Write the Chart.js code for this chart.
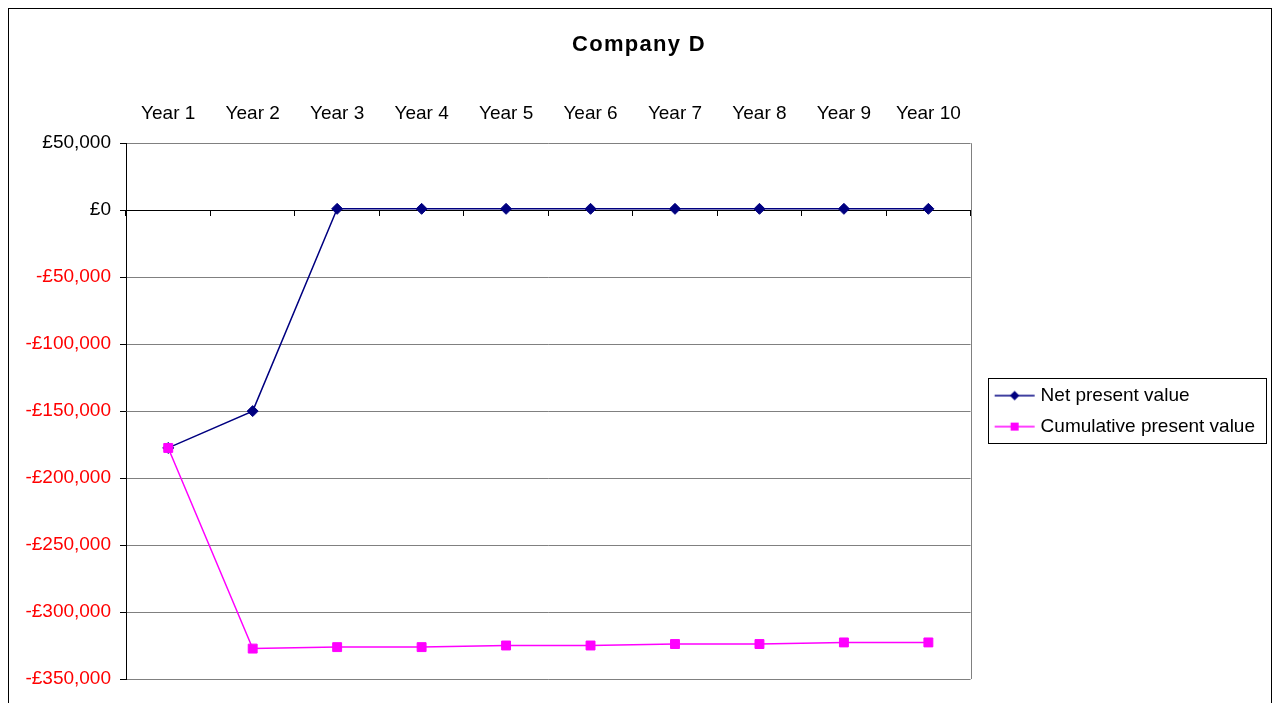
<!DOCTYPE html>
<html>
<head>
<meta charset="utf-8">
<script src="https://cdn.jsdelivr.net/npm/chart.js@4/dist/chart.umd.min.js"></script>
<style>
  html, body { margin: 0; padding: 0; background: #fff; }
  #wrap { width: 1277px; height: 703px; position: relative; }
</style>
</head>
<body>
<div id="wrap"><canvas id="c" width="1277" height="703"></canvas></div>
<script>
const chartTitle = 'Company D';
const years = ['Year 1', 'Year 2', 'Year 3', 'Year 4', 'Year 5', 'Year 6', 'Year 7', 'Year 8', 'Year 9', 'Year 10'];
const netPresentValue = [-177500, -150000, 1000, 1000, 1000, 1000, 1000, 1000, 1000, 1000];
const cumulativePresentValue = [-177500, -327300, -326200, -326200, -325000, -325000, -323900, -323900, -322700, -322700];
const seriesNames = ['Net present value', 'Cumulative present value'];
const yMin = -350000, yMax = 50000, yStep = 50000;

const FONT = 'Liberation Sans, Arial, sans-serif';
const NAVY = '#000080';
const MAGENTA = '#FF00FF';

function legendSwatch(color, style) {
  const W = 64, H = 14;
  const cv = document.createElement('canvas');
  cv.width = W; cv.height = H;
  const g = cv.getContext('2d');
  const a = W / 2 - 12.25;
  const cy = H / 2;
  g.strokeStyle = color; g.lineWidth = 1.3;
  g.beginPath(); g.moveTo(a, cy); g.lineTo(a + 40, cy); g.stroke();
  const cx = a + 20;
  g.fillStyle = color;
  if (style === 'rectRot') {
    const r = 4.8;
    g.beginPath(); g.moveTo(cx, cy - r); g.lineTo(cx + r, cy); g.lineTo(cx, cy + r); g.lineTo(cx - r, cy); g.closePath(); g.fill();
  } else {
    const s = 8;
    g.fillRect(cx - s / 2, cy - s / 2, s, s);
  }
  return cv;
}

const framePlugin = {
  id: 'frame',
  afterInit(chart) {
    const tb = chart.titleBlock;
    if (tb && !tb._spaced) {
      const orig = tb.draw.bind(tb);
      tb.draw = function (area) {
        const ctx = chart.ctx;
        ctx.save();
        try { ctx.letterSpacing = '1.3px'; } catch (e) {}
        orig(area);
        ctx.restore();
      };
      tb._spaced = true;
    }
  },
  beforeDatasetsDraw(chart) {
    const {ctx, chartArea} = chart;
    ctx.save();
    ctx.strokeStyle = '#808080';
    ctx.lineWidth = 1;
    ctx.beginPath();
    ctx.moveTo(Math.round(chartArea.right) + 0.5, chartArea.top);
    ctx.lineTo(Math.round(chartArea.right) + 0.5, chartArea.bottom);
    ctx.stroke();
    ctx.restore();
  },
  afterDraw(chart) {
    const ctx = chart.ctx;
    ctx.save();
    ctx.strokeStyle = '#000';
    ctx.lineWidth = 1;
    ctx.strokeRect(8.5, 8.5, chart.width - 14, chart.height + 20);
    const hb = chart.legend && chart.legend.legendHitBoxes;
    if (hb && hb.length) {
      const l = Math.min(...hb.map(h => h.left)) + 5;
      const t = Math.min(...hb.map(h => h.top)) - 8;
      const r = Math.max(...hb.map(h => h.left + h.width)) + 11;
      const b = Math.max(...hb.map(h => h.top + h.height)) + 7;
      ctx.strokeRect(Math.round(l) + 0.5, Math.round(t) + 0.5, Math.round(r - l), Math.round(b - t));
    }
    ctx.restore();
  }
};

const swatches = [legendSwatch(NAVY, 'rectRot'), legendSwatch(MAGENTA, 'rect')];

new Chart(document.getElementById('c'), {
  type: 'line',
  data: {
    labels: years,
    datasets: [
      {
        label: seriesNames[0],
        data: netPresentValue,
        borderColor: NAVY,
        backgroundColor: NAVY,
        borderWidth: 1.5,
        pointStyle: 'rectRot',
        pointRadius: 5.5,
        pointBorderWidth: 1,
        pointBackgroundColor: NAVY,
        pointBorderColor: NAVY,
        tension: 0,
        order: 1
      },
      {
        label: seriesNames[1],
        data: cumulativePresentValue,
        borderColor: MAGENTA,
        backgroundColor: MAGENTA,
        borderWidth: 1.5,
        pointStyle: 'rect',
        pointRadius: 6.3,
        pointBorderWidth: 1,
        pointBackgroundColor: MAGENTA,
        pointBorderColor: MAGENTA,
        tension: 0,
        order: 0
      }
    ]
  },
  options: {
    responsive: false,
    animation: false,
    devicePixelRatio: 1,
    layout: { padding: { left: 13, right: 12, top: 0, bottom: 24 } },
    plugins: {
      tooltip: { enabled: false },
      title: {
        display: true,
        text: chartTitle,
        color: '#000',
        font: { family: FONT, size: 22, weight: 'bold' },
        padding: { top: 32, bottom: 26 }
      },
      legend: {
        display: true,
        position: 'right',
        align: 'center',
        fullSize: false,
        labels: {
          color: '#000',
          font: { family: FONT, size: 19 },
          usePointStyle: true,
          pointStyleWidth: 48.5,
          boxHeight: 19,
          padding: 12,
          generateLabels(chart) {
            return chart.data.datasets.map((ds, i) => ({
              text: ds.label,
              fillStyle: ds.borderColor,
              strokeStyle: ds.borderColor,
              lineWidth: 0,
              pointStyle: swatches[i],
              hidden: false,
              datasetIndex: i,
              fontColor: '#000'
            }));
          }
        }
      }
    },
    scales: {
      x: {
        type: 'category',
        position: 'top',
        offset: true,
        grid: { display: false, drawTicks: false },
        border: { display: false },
        ticks: {
          color: '#000',
          font: { family: FONT, size: 19 },
          padding: 18,
          maxRotation: 0,
          autoSkip: false
        }
      },
      x2: {
        type: 'category',
        position: { y: 0 },
        offset: true,
        grid: { display: true, drawOnChartArea: false, drawTicks: true, tickLength: 5, color: '#000', offset: true, lineWidth: 1 },
        border: { display: true, color: '#000', width: 1 },
        ticks: { display: false }
      },
      y: {
        type: 'linear',
        position: 'left',
        min: yMin,
        max: yMax,
        afterFit(scale) { scale.width = 113; },
        grid: {
          color: (c) => (c.tick && c.tick.value === 0 ? '#000' : '#808080'),
          lineWidth: 1,
          drawTicks: true,
          tickLength: 6,
          tickColor: '#000'
        },
        border: { display: true, color: '#000', width: 1 },
        ticks: {
          stepSize: yStep,
          padding: 9,
          font: { family: FONT, size: 19 },
          color: (c) => (c.tick && c.tick.value < 0 ? '#FF0000' : '#000'),
          callback: (v) => (v < 0 ? '-' : '') + '£' + Math.abs(v).toLocaleString('en-GB')
        }
      }
    }
  },
  plugins: [framePlugin]
});
</script>
</body>
</html>
